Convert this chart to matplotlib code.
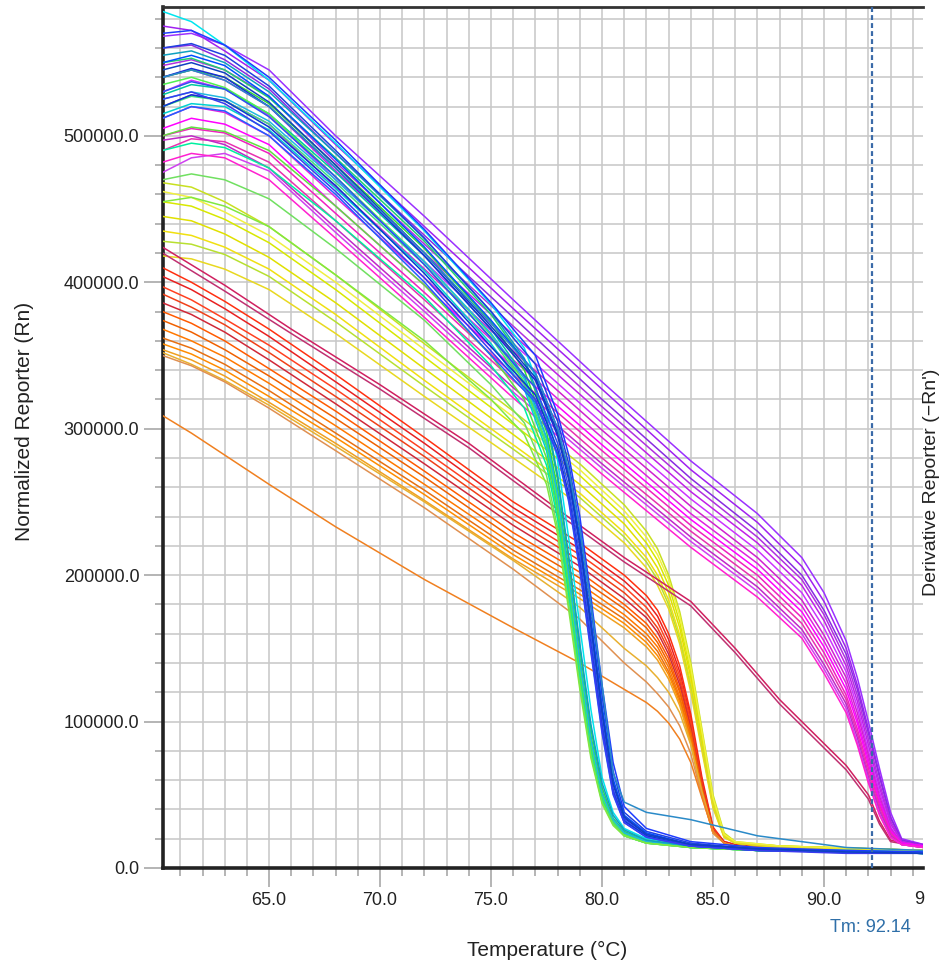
import matplotlib
matplotlib.use("Agg")
import matplotlib.pyplot as plt
from matplotlib.ticker import MultipleLocator, FixedLocator, FuncFormatter

plt.rcParams['font.family'] = ['Liberation Sans', 'DejaVu Sans']

# ---------------- data (values in thousands of Rn) ----------------
# Violet / magenta wells (melt ~92 C)
temp_purple = [60.2, 61.5, 63, 65, 68, 72, 76, 80, 84, 87, 89, 90, 91, 91.5, 92, 92.5, 93, 93.5, 94.5]
rn_purple = [
    [568, 570, 562, 545, 500, 445, 388, 332, 278, 242, 212, 188, 155, 130, 100, 68, 38, 20, 16],
    [575, 572, 558, 538, 494, 438, 382, 327, 272, 236, 206, 182, 150, 125, 95, 64, 35, 19, 16],
    [560, 562, 552, 532, 488, 432, 376, 320, 266, 230, 200, 176, 146, 122, 92, 62, 34, 19, 15],
    [548, 552, 545, 527, 482, 426, 370, 315, 262, 226, 197, 173, 142, 118, 88, 58, 32, 18, 15],
    [540, 545, 538, 520, 476, 420, 364, 310, 257, 222, 193, 169, 138, 114, 84, 55, 30, 18, 15],
    [530, 538, 532, 514, 470, 414, 358, 304, 252, 217, 188, 164, 134, 110, 80, 52, 28, 17, 15],
    [520, 528, 524, 508, 465, 409, 353, 299, 247, 212, 183, 159, 130, 106, 77, 49, 27, 17, 15],
    [512, 520, 516, 500, 458, 403, 347, 294, 242, 208, 179, 155, 126, 102, 74, 47, 26, 17, 15],
    [505, 512, 508, 494, 452, 398, 342, 289, 238, 204, 175, 151, 122, 99, 71, 45, 25, 17, 15],
    [500, 505, 502, 488, 447, 393, 337, 285, 234, 200, 171, 147, 118, 95, 68, 43, 24, 16, 14],
    [490, 498, 496, 482, 442, 388, 333, 280, 230, 196, 167, 143, 115, 92, 65, 41, 23, 16, 14],
    [497, 500, 494, 478, 437, 383, 328, 276, 226, 192, 163, 139, 112, 89, 62, 39, 22, 16, 14],
    [475, 485, 488, 476, 434, 380, 325, 273, 223, 189, 160, 136, 109, 86, 60, 37, 21, 16, 14],
    [482, 488, 485, 470, 430, 376, 321, 269, 219, 185, 157, 133, 106, 84, 58, 36, 21, 16, 14],
]
colors_purple = ['#9b30ff', '#a020f0', '#8a2be2', '#b030e0', '#c020e8', '#cc33ff', '#d020d0',
                 '#e020e0', '#ff00ff', '#f020c0', '#e830b0', '#c028c8', '#d040f0', '#ff20d0']

# Crimson wells (broad melt ~92 C)
temp_crimson = [60.2, 63, 66, 70, 74, 78, 81, 84, 86, 88, 90, 91, 92, 92.5, 93, 94.5]
rn_crimson = [
    [424, 398, 368, 330, 290, 245, 212, 182, 150, 115, 85, 70, 50, 32, 19, 14],
    [420, 394, 365, 327, 287, 242, 209, 179, 147, 112, 82, 67, 47, 30, 18, 14],
]
colors_crimson = ['#d02060', '#c03070']

# Blue wells (melt ~79.5 C)
temp_blue = [60.2, 61.5, 63, 65, 68, 72, 75, 77, 78, 78.5, 79, 79.5, 80, 80.5, 81, 82, 84, 87, 91, 94.5]
rn_blue = [
    [570, 572, 562, 540, 497, 436, 386, 350, 310, 282, 240, 185, 125, 72, 42, 27, 18, 14, 12, 11],
    [560, 563, 555, 534, 490, 430, 380, 344, 305, 276, 233, 178, 118, 66, 38, 25, 17, 13, 11, 10],
    [550, 555, 548, 527, 484, 424, 374, 338, 300, 270, 226, 170, 111, 61, 36, 24, 16, 13, 11, 10],
    [540, 546, 540, 520, 478, 418, 368, 333, 295, 265, 220, 164, 105, 57, 34, 23, 16, 13, 11, 10],
    [530, 537, 532, 513, 472, 412, 362, 328, 290, 260, 214, 158, 100, 54, 33, 22, 15, 12, 11, 10],
    [520, 528, 524, 506, 466, 406, 356, 323, 286, 255, 208, 152, 96, 52, 32, 22, 15, 12, 11, 10],
    [512, 520, 517, 500, 460, 400, 350, 318, 282, 250, 203, 147, 92, 50, 31, 21, 15, 12, 11, 10],
    [525, 530, 522, 503, 462, 403, 353, 320, 283, 252, 205, 149, 94, 51, 31, 21, 15, 12, 10, 10],
    [545, 550, 543, 523, 480, 420, 370, 335, 297, 267, 222, 166, 107, 58, 35, 23, 16, 13, 11, 10],
    [540, 545, 538, 520, 478, 420, 372, 338, 300, 272, 232, 180, 125, 65, 45, 38, 33, 22, 14, 12],
]
colors_blue = ['#1e3cff', '#2040e0', '#0050ff', '#1a2ad8', '#3050f0', '#0a3ad0', '#2060ff',
               '#3a3af0', '#1040c0', '#2a8ac8']

# Green / cyan wells (melt ~78.5 C)
temp_green = [60.2, 61.5, 63, 65, 68, 72, 75, 76.5, 77.5, 78, 78.5, 79, 79.5, 80, 80.5, 81, 82, 84, 87, 91, 94.5]
rn_green = [
    [585, 578, 562, 538, 495, 435, 385, 355, 315, 278, 225, 165, 108, 62, 38, 27, 20, 16, 13, 12, 11],
    [550, 553, 545, 526, 485, 428, 378, 346, 305, 265, 210, 150, 95, 55, 34, 25, 19, 15, 13, 11, 10],
    [540, 545, 540, 522, 480, 423, 373, 340, 298, 258, 203, 143, 90, 52, 33, 24, 18, 15, 12, 11, 10],
    [528, 535, 532, 515, 475, 418, 368, 336, 294, 254, 199, 140, 87, 50, 32, 24, 18, 15, 12, 11, 10],
    [520, 527, 524, 508, 468, 412, 362, 330, 288, 248, 193, 135, 84, 48, 31, 23, 18, 14, 12, 11, 10],
    [515, 522, 520, 504, 464, 408, 358, 327, 285, 245, 190, 132, 82, 47, 31, 23, 18, 14, 12, 11, 10],
    [535, 540, 533, 515, 472, 414, 364, 332, 290, 250, 195, 137, 85, 49, 32, 23, 18, 14, 12, 11, 10],
    [525, 530, 526, 510, 470, 414, 365, 334, 293, 255, 200, 141, 88, 51, 33, 24, 18, 15, 12, 11, 10],
    [500, 506, 503, 490, 452, 398, 350, 320, 280, 242, 188, 130, 80, 46, 30, 22, 17, 14, 12, 11, 10],
    [490, 495, 492, 478, 442, 390, 343, 314, 275, 238, 185, 128, 79, 46, 30, 22, 17, 14, 12, 11, 10],
    [470, 474, 470, 457, 423, 374, 330, 304, 268, 232, 180, 125, 77, 45, 30, 22, 17, 14, 12, 11, 10],
    [455, 458, 452, 438, 405, 360, 320, 296, 262, 228, 176, 122, 75, 44, 29, 22, 17, 14, 12, 11, 10],
    [555, 558, 550, 530, 488, 430, 380, 348, 308, 268, 213, 153, 98, 58, 36, 26, 19, 15, 13, 11, 10],
]
colors_green = ['#00e5ee', '#20d070', '#30e030', '#00c8a0', '#40e080', '#00d0d0', '#50f050',
                '#20b8e0', '#60e040', '#00f0a0', '#70e060', '#80e840', '#10a0c0']

# Yellow wells (melt ~84.5 C)
temp_yellow = [60.2, 61.5, 63, 65, 68, 72, 76, 79, 81, 82, 82.5, 83, 83.5, 84, 84.5, 85, 85.5, 86, 88, 94.5]
rn_yellow = [
    [468, 465, 455, 438, 405, 358, 312, 276, 248, 230, 218, 200, 175, 140, 95, 50, 24, 18, 15, 12],
    [455, 452, 443, 427, 395, 349, 303, 268, 240, 222, 210, 193, 168, 134, 90, 47, 23, 17, 15, 12],
    [445, 442, 433, 417, 386, 341, 296, 262, 235, 217, 205, 188, 164, 130, 87, 45, 22, 17, 15, 12],
    [435, 432, 424, 409, 378, 333, 289, 256, 229, 212, 200, 183, 159, 126, 84, 43, 22, 17, 14, 12],
    [428, 426, 419, 404, 373, 329, 286, 253, 226, 209, 197, 180, 156, 123, 82, 42, 21, 17, 14, 12],
    [418, 416, 409, 395, 365, 322, 280, 248, 222, 205, 193, 177, 153, 120, 80, 41, 21, 17, 14, 12],
    [462, 458, 448, 432, 400, 354, 308, 272, 244, 226, 214, 197, 172, 137, 93, 48, 23, 18, 15, 12],
]
colors_yellow = ['#c8e020', '#d8e800', '#e0e000', '#f0e010', '#b8e030', '#e8d820', '#f0f040']

# Red / orange wells (melt ~84 C)
temp_red = [60.2, 61.5, 63, 65, 68, 72, 76, 79, 81, 82, 82.5, 83, 83.5, 84, 84.5, 85, 85.5, 86, 88, 94.5]
rn_red = [
    [410, 400, 387, 368, 337, 294, 250, 222, 200, 186, 176, 160, 138, 105, 62, 28, 18, 16, 14, 12],
    [404, 395, 382, 363, 332, 290, 246, 218, 196, 182, 172, 156, 134, 102, 60, 27, 18, 16, 14, 12],
    [397, 388, 375, 357, 327, 285, 242, 214, 192, 178, 168, 152, 131, 100, 58, 27, 17, 15, 14, 12],
    [392, 383, 371, 352, 322, 281, 238, 210, 188, 174, 164, 149, 128, 97, 57, 26, 17, 15, 14, 12],
    [386, 378, 366, 347, 317, 276, 234, 206, 184, 171, 161, 146, 125, 95, 56, 26, 17, 15, 13, 12],
    [380, 372, 360, 341, 312, 271, 229, 202, 180, 167, 157, 143, 122, 93, 55, 25, 17, 15, 13, 12],
    [374, 366, 354, 336, 307, 267, 225, 198, 177, 164, 154, 140, 120, 91, 54, 25, 17, 15, 13, 12],
    [368, 360, 349, 331, 302, 262, 221, 194, 173, 160, 151, 137, 117, 89, 53, 25, 17, 15, 13, 12],
    [362, 355, 344, 326, 297, 258, 217, 190, 170, 157, 148, 134, 115, 87, 52, 24, 17, 15, 13, 12],
    [358, 351, 340, 322, 294, 255, 214, 187, 167, 154, 145, 132, 113, 86, 51, 24, 17, 15, 13, 12],
    [354, 347, 336, 318, 290, 251, 211, 184, 164, 151, 142, 129, 111, 85, 50, 24, 17, 15, 13, 12],
    [352, 344, 333, 316, 288, 250, 210, 178, 150, 138, 130, 120, 106, 84, 52, 25, 17, 15, 13, 12],
    [350, 343, 332, 314, 285, 246, 204, 170, 140, 127, 119, 110, 97, 78, 49, 24, 17, 15, 13, 12],
    [309, 297, 282, 262, 233, 197, 164, 140, 122, 113, 107, 99, 88, 72, 48, 25, 17, 15, 13, 12],
]
colors_red = ['#ff3010', '#e82020', '#ff4020', '#f04018', '#d02838', '#ff5a00', '#f06000',
              '#ff7800', '#e87010', '#ff8c00', '#f0a020', '#e8b030', '#e09050', '#f08020']

x_major = [65, 70, 75, 80, 85, 90]
y_major = [0, 100000, 200000, 300000, 400000, 500000]
tm_value = 92.14

# ---------------- figure ----------------
W, H = 945, 964
fig = plt.figure(figsize=(W / 100, H / 100), dpi=100)
ax = fig.add_axes([163 / W, 1 - 868 / H, (923 - 163) / W, (868 - 7) / H])

groups = [
    (temp_red, rn_red, colors_red),
    (temp_yellow, rn_yellow, colors_yellow),
    (temp_crimson, rn_crimson, colors_crimson),
    (temp_purple, rn_purple, colors_purple),
    (temp_green, rn_green, colors_green),
    (temp_blue, rn_blue, colors_blue),
]
for temps, curves, cols in groups:
    for vals, c in zip(curves, cols):
        ax.plot(temps, [v * 1000 for v in vals], color=c, lw=1.1, zorder=3)

ax.axvline(tm_value, color='#3a6aa8', lw=1.6, ls=(0, (2.2, 1.4)), zorder=4)

ax.set_xlim(60.22, 94.46)
ax.set_ylim(0, 588000)

ax.xaxis.set_major_locator(FixedLocator(x_major))
ax.xaxis.set_minor_locator(MultipleLocator(1))
ax.yaxis.set_major_locator(FixedLocator(y_major))
ax.yaxis.set_minor_locator(MultipleLocator(20000))
ax.xaxis.set_major_formatter(FuncFormatter(lambda v, p: f"{v:.1f}"))
ax.yaxis.set_major_formatter(FuncFormatter(lambda v, p: f"{v:.1f}"))

ax.grid(which='both', color='#c8c8c8', lw=1.15, zorder=1)
ax.set_axisbelow(True)
ax.tick_params(which='major', length=14, width=1.2, color='#a8a8a8', labelsize=13,
               labelcolor='#222222', pad=3)
ax.tick_params(which='minor', length=6, width=1.2, color='#a8a8a8')

for s in ['left', 'bottom']:
    ax.spines[s].set_linewidth(2.6)
    ax.spines[s].set_color('#222222')
ax.spines['top'].set_linewidth(2.0)
ax.spines['top'].set_color('#333333')
ax.spines['right'].set_visible(False)

fig.text(25 / W, 1 - 421 / H, 'Normalized Reporter (Rn)', rotation=90, ha='center', va='center',
         fontsize=15, color='#222222')
fig.text(547 / W, 1 - 950 / H, 'Temperature (°C)', ha='center', va='center', fontsize=15,
         color='#222222')
fig.text(870 / W, 1 - 927 / H, f'Tm: {tm_value:.2f}', ha='center', va='center', fontsize=13,
         color='#2f6fa8')
fig.text(919 / W, 1 - 900 / H, '9', ha='center', va='center', fontsize=13, color='#222222')
fig.text(932 / W, 1 - 482 / H, "Derivative Reporter (\u2212Rn')", rotation=90, ha='center',
         va='center', fontsize=14, color='#222222')

fig.savefig('out.png', dpi=100)
